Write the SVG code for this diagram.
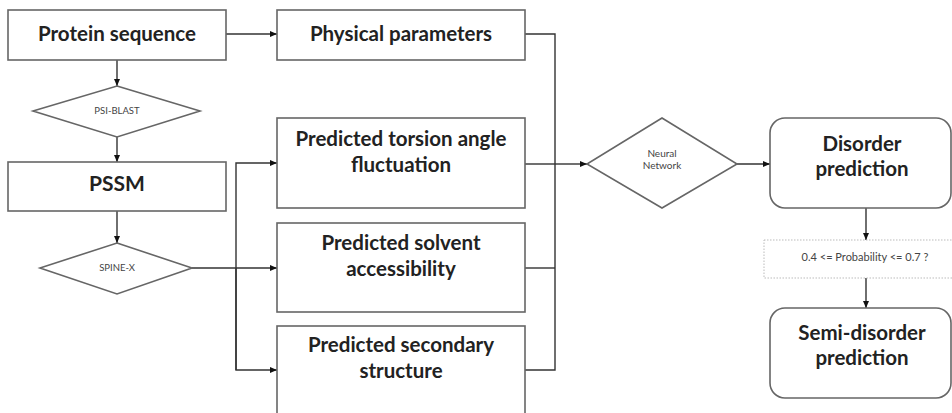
<svg xmlns="http://www.w3.org/2000/svg" width="952" height="413" viewBox="0 0 952 413">
<style>
.box{fill:#fff;stroke:#666;stroke-width:1.6}
.dia{fill:#fff;stroke:#666;stroke-width:1.6}
.dot{fill:#fff;stroke:#bbb;stroke-width:1;stroke-dasharray:1.5 1.5}
.t{font-family:Lato,"Open Sans","Liberation Sans",sans-serif;font-weight:bold;fill:#222;text-anchor:middle}
.big{font-size:20.5px}
.med{font-size:20.5px}
.s{font-family:Lato,"Open Sans","Liberation Sans",sans-serif;fill:#444;text-anchor:middle}
.c{fill:none;stroke:#333;stroke-width:1.4}
</style>
<defs>
<marker id="ah" markerWidth="8" markerHeight="8" refX="7" refY="4" orient="auto" markerUnits="userSpaceOnUse">
<path d="M0,1 L7,4 L0,7 Z" fill="#111"/>
</marker>
</defs>
<rect width="952" height="413" fill="#fff"/>
<g id="connectors">
<path class="c" d="M226,34 H277" marker-end="url(#ah)"/>
<path class="c" d="M117,60 V86" marker-end="url(#ah)"/>
<path class="c" d="M117,137 V162" marker-end="url(#ah)"/>
<path class="c" d="M117,211 V243" marker-end="url(#ah)"/>
<path class="c" d="M192,268 H277" marker-end="url(#ah)"/>
<path class="c" d="M236,370 V163 H277" marker-end="url(#ah)"/>
<path class="c" d="M236,268 V370 H277" marker-end="url(#ah)"/>
<path class="c" d="M525,34 H555 V370 H525"/>
<path class="c" d="M525,164 H555"/>
<path class="c" d="M525,268 H555"/>
<path class="c" d="M555,164 H587" marker-end="url(#ah)"/>
<path class="c" d="M737,164 H770" marker-end="url(#ah)"/>
<path class="c" d="M866,208 V240" marker-end="url(#ah)"/>
<path class="c" d="M866,278 V308" marker-end="url(#ah)"/>
</g>
<g id="protein-sequence">
<rect class="box" x="8" y="10" width="218" height="50"/>
<text class="t big" x="117" y="41">Protein sequence</text>
</g>
<g id="physical-parameters">
<rect class="box" x="277" y="10" width="248" height="50"/>
<text class="t big" x="401" y="41">Physical parameters</text>
</g>
<g id="psi-blast">
<polygon class="dia" points="117,86 200,111 117,137 33,111"/>
<text class="s" x="117" y="114" font-size="9.5">PSI-BLAST</text>
</g>
<g id="pssm">
<rect class="box" x="8" y="162" width="218" height="49"/>
<text class="t" x="117" y="191" font-size="21">PSSM</text>
</g>
<g id="spine-x">
<polygon class="dia" points="117,243 192,268 117,294 40,268"/>
<text class="s" x="117" y="271" font-size="9.5">SPINE-X</text>
</g>
<g id="torsion">
<rect class="box" x="277" y="118" width="248" height="90"/>
<text class="t med" x="401" y="146">Predicted torsion angle</text>
<text class="t med" x="401" y="172">fluctuation</text>
</g>
<g id="solvent">
<rect class="box" x="277" y="223" width="248" height="89"/>
<text class="t med" x="401" y="250">Predicted solvent</text>
<text class="t med" x="401" y="276">accessibility</text>
</g>
<g id="secondary">
<rect class="box" x="277" y="326" width="248" height="100"/>
<text class="t med" x="401" y="352">Predicted secondary</text>
<text class="t med" x="401" y="378">structure</text>
</g>
<g id="neural-network">
<polygon class="dia" points="662,118 737,164 662,208 587,164"/>
<text class="s" x="662" y="157" font-size="10">Neural</text>
<text class="s" x="662" y="169" font-size="10">Network</text>
</g>
<g id="disorder">
<rect class="box" x="770" y="118" width="181" height="90" rx="15"/>
<text class="t med" x="862" y="151">Disorder</text>
<text class="t med" x="862" y="176">prediction</text>
</g>
<g id="probability">
<rect class="dot" x="764" y="240" width="192" height="38"/>
<text class="s" x="865" y="261" font-size="11">0.4 &lt;= Probability &lt;= 0.7 ?</text>
</g>
<g id="semi-disorder">
<rect class="box" x="770" y="308" width="181" height="90" rx="15"/>
<text class="t med" x="862" y="340">Semi-disorder</text>
<text class="t med" x="862" y="365">prediction</text>
</g>
</svg>
